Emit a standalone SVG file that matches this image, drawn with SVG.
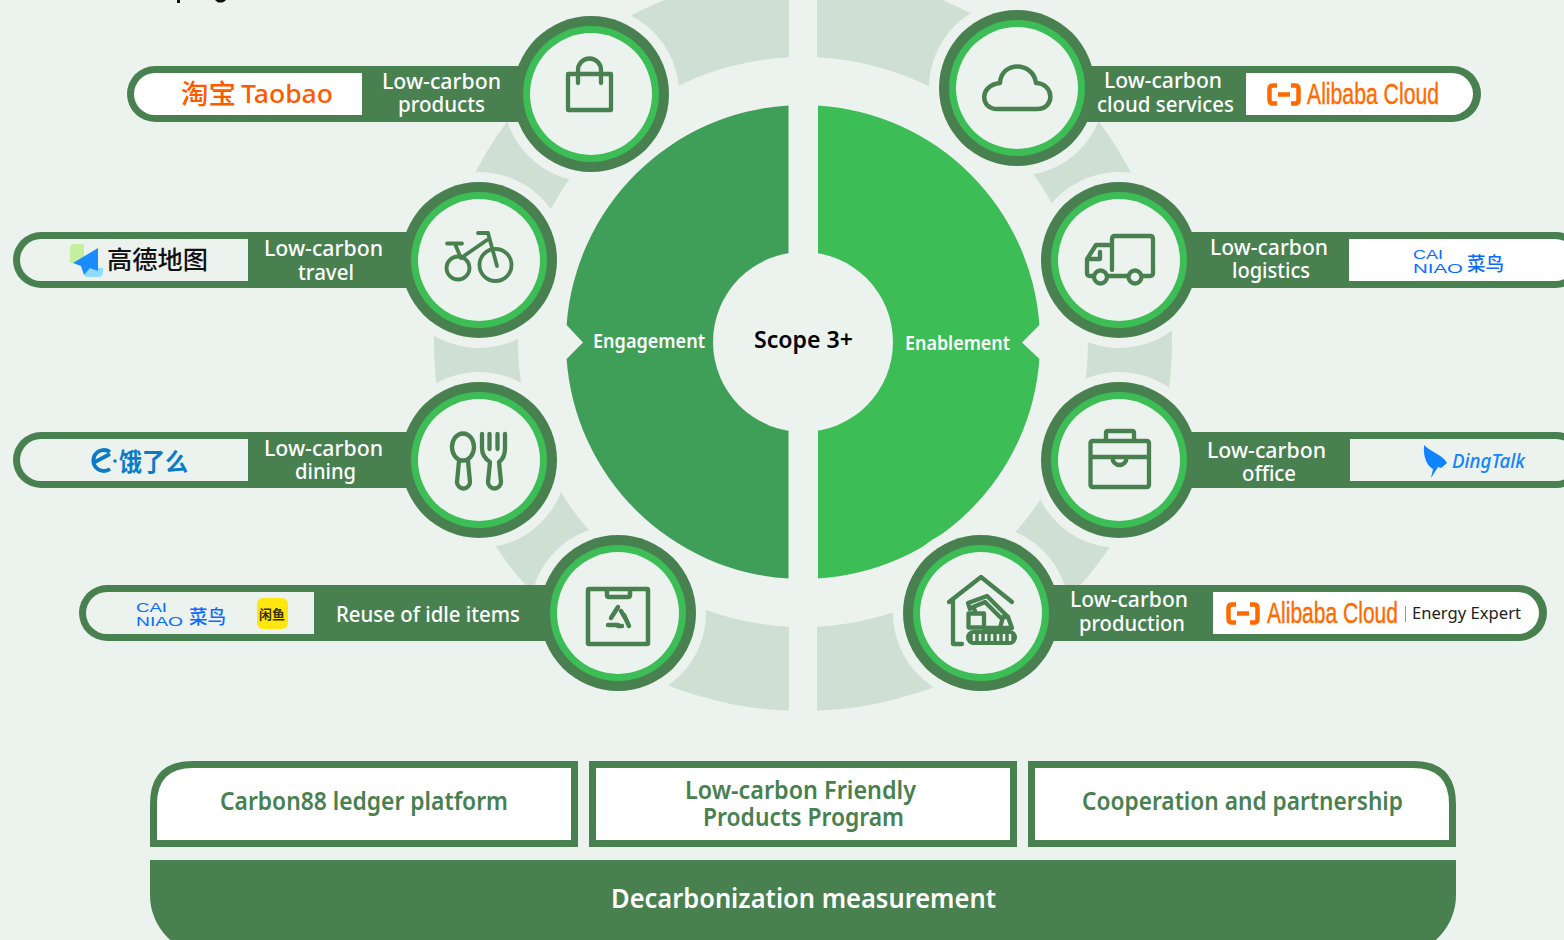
<svg xmlns="http://www.w3.org/2000/svg" width="1564" height="940" viewBox="0 0 1564 940">
<style>
text{font-family:"Noto Sans","Noto Sans CJK SC",sans-serif}
.lab{fill:#fff;font-size:22.500px;font-weight:500}
.box{fill:#488050;font-size:25.500px;font-weight:600}
.bar{fill:#488050}
.wh{fill:#fff}
.bgf{fill:#ecf2ee}
.halo{fill:#ecf2ee}
.outer{fill:#488050}
.mid{fill:#3cbd56}
.ic{fill:none;stroke:#488050;stroke-width:4.300;stroke-linecap:round;stroke-linejoin:round}
.cn{font-family:"Noto Sans CJK SC",sans-serif}
.cai{font-family:"Liberation Sans",sans-serif;font-size:12px;fill:#0a6cff}
.cainz{font-family:"Noto Sans CJK SC",sans-serif;font-size:19px;font-weight:500;fill:#0a6cff}
.ali{font-family:"Liberation Sans",sans-serif;font-size:30px;fill:#ff6a00;stroke:#ff6a00;stroke-width:.4}
</style>
<defs>
<g id="aliMark" fill="none" stroke="#ff6a00" stroke-width="4.500">
<path d="M10 2.500H6Q2.500 2.500 2.500 6V17Q2.500 20.500 6 20.500H10M24 2.500H28Q31.500 2.500 31.500 6V17Q31.500 20.500 28 20.500H24M11 11.500H23"/>
</g>
</defs>
<rect width="1564" height="940" fill="#ecf2ee"/>
<g id="clipped-heading-fragments" fill="#111">
<rect x="177" y="0" width="3" height="3"/>
<path d="M215 0H226Q224 3 218 2.500Z"/>
</g>
<g id="ring">
<path fill="#cfdfd3" fill-rule="evenodd" d="M803 -27A369 369 0 1 1 803 711A369 369 0 1 1 803 -27ZM803 57A285 285 0 1 0 803 627A285 285 0 1 0 803 57Z"/>
<rect x="789" y="0" width="28" height="720" fill="#ecf2ee"/>
</g>
<g id="core">
<path id="engagement" fill="#3f9f58" d="M788.500 105.400A237 237 0 0 0 566.600 325L583 342.500L566.600 359A237 237 0 0 0 788.500 578.600Z"/>
<path id="enablement" fill="#3cbd56" d="M818 105.400A237 237 0 0 1 1039.400 325L1022 342.500L1039.400 359A237 237 0 0 1 818 578.600Z"/>
<circle cx="803" cy="342" r="90" class="bgf"/>
<text x="593" y="348" fill="#fff" font-size="19" font-weight="600" textLength="112" lengthAdjust="spacingAndGlyphs">Engagement</text>
<text x="905" y="350" fill="#fff" font-size="19" font-weight="600" textLength="105" lengthAdjust="spacingAndGlyphs">Enablement</text>
<text x="754" y="348" fill="#000" font-size="24" font-weight="600" textLength="99" lengthAdjust="spacingAndGlyphs">Scope 3+</text>
</g>

<g id="node-products">
<circle cx="591" cy="94" r="88" class="halo"/>
<rect x="127" y="66" width="460" height="56" rx="28" class="bar"/>
<path d="M362 73H155a21 21 0 0 0 0 42H362Z" class="wh"/>
<text class="cn" x="181" y="104" font-size="27" font-weight="500" fill="#ff5a00" textLength="55" lengthAdjust="spacingAndGlyphs">淘宝</text>
<text x="241" y="103" font-size="25" font-weight="500" fill="#ff5a00" textLength="92" lengthAdjust="spacingAndGlyphs">Taobao</text>
<text class="lab" x="382" y="89" textLength="119" lengthAdjust="spacingAndGlyphs">Low-carbon</text>
<text class="lab" x="398" y="112" textLength="87" lengthAdjust="spacingAndGlyphs">products</text>
<circle cx="591" cy="94" r="78" class="outer"/><circle cx="591" cy="94" r="68" class="mid"/><circle cx="591" cy="94" r="61" class="bgf"/>
<path class="ic" d="M568 74H611V110H568ZM578 83V70a11.500 11.500 0 0 1 23 0V83"/>
</g>

<g id="node-cloud">
<circle cx="1017" cy="88" r="88" class="halo"/>
<rect x="1021" y="66" width="460" height="56" rx="28" class="bar"/>
<path d="M1246 73H1452a21 21 0 0 1 0 42H1246Z" class="wh"/>
<use href="#aliMark" x="1267" y="83"/>
<text class="ali" x="1307" y="104" textLength="132" lengthAdjust="spacingAndGlyphs">Alibaba Cloud</text>
<text class="lab" x="1104" y="88" textLength="118" lengthAdjust="spacingAndGlyphs">Low-carbon</text>
<text class="lab" x="1097" y="112" textLength="137" lengthAdjust="spacingAndGlyphs">cloud services</text>
<circle cx="1017" cy="88" r="78" class="outer"/><circle cx="1017" cy="88" r="68" class="mid"/><circle cx="1017" cy="88" r="61" class="bgf"/>
<path class="ic" style="stroke-width:4.500" d="M997 109H1037C1055 109 1055 84 1036 83C1033 61 1001 61 1000 83C979 85 980 109 997 109Z"/>
</g>

<g id="node-travel">
<circle cx="479" cy="260" r="88" class="halo"/>
<rect x="13" y="232" width="470" height="56" rx="28" class="bar"/>
<path d="M248 239H41a21 21 0 0 0 0 42H248Z" class="bgf"/>
<path fill="#c4f0a0" d="M74 244H84V263H70V248Q70 244 74 244Z"/>
<path fill="#90dcff" d="M84 268H103V272Q103 277 98 277H88Q84 277 84 272Z"/>
<path fill="#1a8cff" d="M98 248L73 263L81 266L84 275L90 268L98 271Z"/>
<text class="cn" x="107" y="269" font-size="25" font-weight="500" fill="#111" textLength="101" lengthAdjust="spacingAndGlyphs">高德地图</text>
<text class="lab" x="264" y="256" textLength="119" lengthAdjust="spacingAndGlyphs">Low-carbon</text>
<text class="lab" x="298" y="280" textLength="56" lengthAdjust="spacingAndGlyphs">travel</text>
<circle cx="479" cy="260" r="78" class="outer"/><circle cx="479" cy="260" r="68" class="mid"/><circle cx="479" cy="260" r="61" class="bgf"/>
<g class="ic" style="stroke-width:3.800">
<circle cx="458" cy="268" r="11.500"/><circle cx="495.500" cy="265" r="16"/>
<path d="M447 243.500H462M455 244L461 258M461 258L487 240M478 233H488L497 266"/>
</g>
</g>

<g id="node-logistics">
<circle cx="1119" cy="260" r="88" class="halo"/>
<rect x="1124" y="232" width="460" height="56" rx="28" class="bar"/>
<path d="M1349 239H1555a21 21 0 0 1 0 42H1349Z" class="wh"/>
<text class="cai" x="1413" y="259" textLength="30" lengthAdjust="spacingAndGlyphs">CAI</text>
<text class="cai" x="1413" y="273" textLength="50" lengthAdjust="spacingAndGlyphs">NIAO</text>
<text class="cainz" x="1467" y="271" textLength="37" lengthAdjust="spacingAndGlyphs">菜鸟</text>
<text class="lab" x="1210" y="255" textLength="118" lengthAdjust="spacingAndGlyphs">Low-carbon</text>
<text class="lab" x="1232" y="278" textLength="78" lengthAdjust="spacingAndGlyphs">logistics</text>
<circle cx="1119" cy="260" r="78" class="outer"/><circle cx="1119" cy="260" r="68" class="mid"/><circle cx="1119" cy="260" r="61" class="bgf"/>
<g class="ic">
<path d="M1112 270V239Q1112 236 1115 236H1150Q1153 236 1153 239V273Q1153 276 1150 276H1143M1127 276H1108M1093 276H1090Q1087 276 1087 273V259L1096 245H1112M1088 259H1100V252"/>
<circle cx="1100.500" cy="277" r="6.500"/><circle cx="1135" cy="277" r="6.500"/>
</g>
</g>

<g id="node-dining">
<circle cx="479" cy="460" r="88" class="halo"/>
<rect x="13" y="432" width="470" height="56" rx="28" class="bar"/>
<path d="M248 439H41a21 21 0 0 0 0 42H248Z" class="bgf"/>
<g fill="none" stroke="#0a7bc9" stroke-width="3.800"><path d="M110 452A10.500 10.500 0 1 0 110 469M93 463L110 454"/></g>
<circle cx="115" cy="461" r="1.800" fill="#0a7bc9"/>
<text class="cn" x="119" y="471" font-size="25" font-weight="700" fill="#0a7bc9" textLength="69" lengthAdjust="spacingAndGlyphs">饿了么</text>
<text class="lab" x="264" y="456" textLength="119" lengthAdjust="spacingAndGlyphs">Low-carbon</text>
<text class="lab" x="295" y="479" textLength="61" lengthAdjust="spacingAndGlyphs">dining</text>
<circle cx="479" cy="460" r="78" class="outer"/><circle cx="479" cy="460" r="68" class="mid"/><circle cx="479" cy="460" r="61" class="bgf"/>
<g class="ic">
<ellipse cx="463" cy="447" rx="11" ry="13.500"/>
<path d="M459 461L457 482a6.500 6.500 0 0 0 13 0L468 461"/>
<path d="M482 434V448C482 456 487 460 490 462L488 482a6.500 6.500 0 0 0 13 0L499 462C502 460 505 456 505 448V434M489.500 434V449M497.500 434V449"/>
</g>
</g>

<g id="node-office">
<circle cx="1119" cy="460" r="88" class="halo"/>
<rect x="1124" y="432" width="461" height="56" rx="28" class="bar"/>
<path d="M1350 439H1556a21 21 0 0 1 0 42H1350Z" class="bgf"/>
<path fill="#1283ff" d="M1424 445C1431 452 1443 455 1447 463L1441 468L1438 467L1431 478L1433 469C1427 466 1423 457 1424 445Z"/>
<text x="1452" y="468" font-size="20" font-weight="500" font-style="italic" fill="#1283ff" textLength="73" lengthAdjust="spacingAndGlyphs">DingTalk</text>
<text class="lab" x="1207" y="458" textLength="119" lengthAdjust="spacingAndGlyphs">Low-carbon</text>
<text class="lab" x="1242" y="481" textLength="54" lengthAdjust="spacingAndGlyphs">office</text>
<circle cx="1119" cy="460" r="78" class="outer"/><circle cx="1119" cy="460" r="68" class="mid"/><circle cx="1119" cy="460" r="61" class="bgf"/>
<g class="ic">
<rect x="1090.500" y="441" width="58.500" height="46" rx="2"/>
<path d="M1106 440V433Q1106 431 1108 431H1132Q1134 431 1134 433V440M1091 457H1149M1112.500 458A7 7 0 0 0 1126.500 458"/>
</g>
</g>

<g id="node-reuse">
<circle cx="618" cy="613" r="88" class="halo"/>
<rect x="79" y="585" width="535" height="56" rx="28" class="bar"/>
<path d="M314 592H107a21 21 0 0 0 0 42H314Z" class="bgf"/>
<text class="cai" x="136" y="612" textLength="31" lengthAdjust="spacingAndGlyphs">CAI</text>
<text class="cai" x="136" y="626" textLength="47" lengthAdjust="spacingAndGlyphs">NIAO</text>
<text class="cainz" x="189" y="624" textLength="37" lengthAdjust="spacingAndGlyphs">菜鸟</text>
<rect x="257" y="598" width="31" height="31" rx="6" fill="#ffe60f"/>
<text class="cn" x="259" y="619" font-size="13" font-weight="700" fill="#3a3000" textLength="26" lengthAdjust="spacingAndGlyphs">闲鱼</text>
<text class="lab" x="336" y="622" textLength="184" lengthAdjust="spacingAndGlyphs">Reuse of idle items</text>
<circle cx="618" cy="613" r="78" class="outer"/><circle cx="618" cy="613" r="68" class="mid"/><circle cx="618" cy="613" r="61" class="bgf"/>
<g class="ic" style="stroke-width:4.500">
<rect x="588" y="589" width="60" height="55" rx="1"/>
<path d="M607 590V595Q607 597 609 597H628Q630 597 630 595V590"/>
<path d="M618 607L611 618M621 611L625 618M624 615L629 626M622 626H618M608 625L618 625"/>
</g>
</g>

<g id="node-production">
<circle cx="981" cy="613" r="88" class="halo"/>
<rect x="985" y="585" width="562" height="56" rx="28" class="bar"/>
<path d="M1213 592H1518a21 21 0 0 1 0 42H1213Z" class="wh"/>
<use href="#aliMark" x="1226" y="602"/>
<text class="ali" x="1267" y="623" textLength="131" lengthAdjust="spacingAndGlyphs">Alibaba Cloud</text>
<rect x="1405" y="606" width="1" height="16" fill="#999"/>
<text x="1412" y="619" font-size="17" fill="#222" textLength="109" lengthAdjust="spacingAndGlyphs">Energy Expert</text>
<text class="lab" x="1070" y="607" textLength="118" lengthAdjust="spacingAndGlyphs">Low-carbon</text>
<text class="lab" x="1079" y="631" textLength="106" lengthAdjust="spacingAndGlyphs">production</text>
<circle cx="981" cy="613" r="78" class="outer"/><circle cx="981" cy="613" r="68" class="mid"/><circle cx="981" cy="613" r="61" class="bgf"/>
<g class="ic">
<path d="M949 602L981 577L1012 602M953 601V644H962"/>
<path d="M970 609L968 603L987 596L1008 617M975 611L973 607L985 602L1001 618"/>
<rect x="968.500" y="613.500" width="15.500" height="14"/>
<path d="M1000 628L1003 617H1008L1012 628Z"/>
<path d="M984 628H1000"/>
</g>
<rect x="966" y="630" width="51" height="15" rx="7.500" fill="#488050"/>
<path d="M974 634V641M980 634V641M986 634V641M992 634V641M998 634V641M1004 634V641M1010 634V641" stroke="#ecf2ee" stroke-width="2.500" fill="none"/>
</g>

<g id="box-ledger">
<path d="M153.500 843.500V804Q153.500 764.500 193 764.500H574.500V843.500Z" class="wh" stroke="#488050" stroke-width="7"/>
<text class="box" x="220" y="810" textLength="288" lengthAdjust="spacingAndGlyphs">Carbon88 ledger platform</text>
</g>
<g id="box-program">
<rect x="592.500" y="764.500" width="421" height="79" class="wh" stroke="#488050" stroke-width="7"/>
<text class="box" x="685" y="799" textLength="231" lengthAdjust="spacingAndGlyphs">Low-carbon Friendly</text>
<text class="box" x="703" y="826" textLength="201" lengthAdjust="spacingAndGlyphs">Products Program</text>
</g>
<g id="box-partnership">
<path d="M1031.500 764.500H1413Q1452.500 764.500 1452.500 804V843.500H1031.500Z" class="wh" stroke="#488050" stroke-width="7"/>
<text class="box" x="1082" y="810" textLength="321" lengthAdjust="spacingAndGlyphs">Cooperation and partnership</text>
</g>
<g id="box-measurement">
<path d="M150 860H1456V895A60 60 0 0 1 1396 955H210A60 60 0 0 1 150 895Z" class="bar"/>
<text x="611" y="908" fill="#fff" font-size="27" font-weight="600" textLength="385" lengthAdjust="spacingAndGlyphs">Decarbonization measurement</text>
</g>
<g id="connectors"/>
</svg>
